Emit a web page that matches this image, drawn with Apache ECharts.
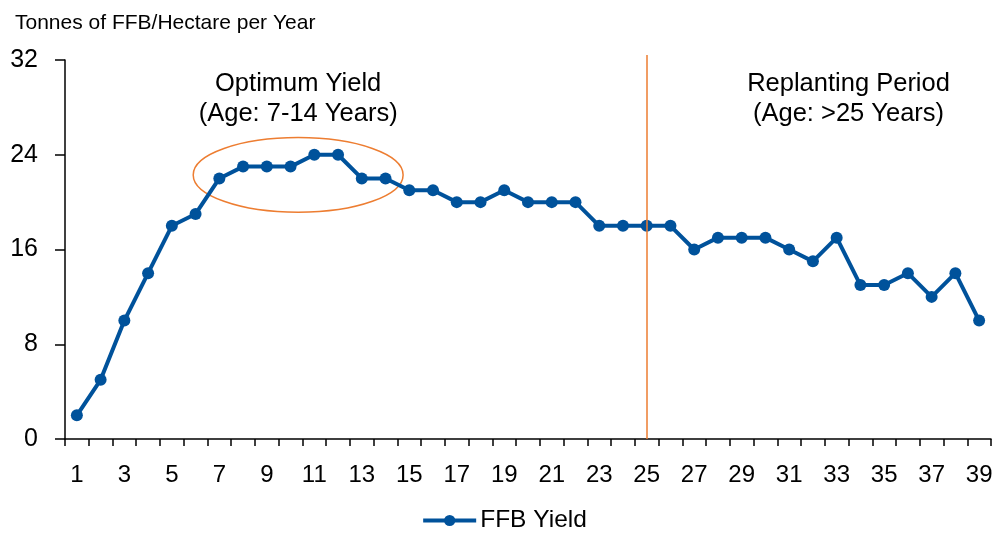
<!DOCTYPE html>
<html>
<head>
<meta charset="utf-8">
<script src="https://cdn.jsdelivr.net/npm/echarts@6/dist/echarts.min.js"></script>
<style>html,body{margin:0;padding:0;background:#fff;}#c{width:1008px;height:538px;}</style>
</head>
<body>
<div id="c"></div>
<script>
var ages = [];
for (var i = 1; i <= 39; i++) ages.push(String(i));
var ffbYield = [2,5,10,14,18,19,22,23,23,23,24,24,22,22,21,21,20,20,21,20,20,20,18,18,18,18,16,17,17,17,16,15,17,13,13,14,12,14,10];
var yTicks = [0, 8, 16, 24, 32];
var yTitle = 'Tonnes of FFB/Hectare per Year';
var optimumText = 'Optimum Yield\n(Age: 7-14 Years)';
var replantText = 'Replanting Period\n(Age: >25 Years)';
var replantAge = '25';

var font = 'Liberation Sans, Arial, sans-serif';
var chart = echarts.init(document.getElementById('c'), null, {renderer: 'canvas'});
var option = {
  animation: false,
  backgroundColor: '#fff',
  grid: {left: 65, right: 17, top: 60, bottom: 99, containLabel: false},
  title: {text: yTitle, left: 10, top: 8, textStyle: {fontFamily: font, fontSize: 21, fontWeight: 'normal', color: '#000'}},
  legend: {
    bottom: 0, left: 'center', itemWidth: 53, itemHeight: 14, itemGap: 10,
    data: ['FFB Yield'],
    lineStyle: {width: 4},
    textStyle: {fontFamily: font, fontSize: 24.5, color: '#000', padding: [0,0,0,-1]}
  },
  xAxis: {
    type: 'category', data: ages, boundaryGap: true,
    axisLine: {lineStyle: {color: '#000', width: 1.5}},
    axisTick: {show: true, interval: 0, length: 7, lineStyle: {color: '#000', width: 1.5}},
    axisLabel: {interval: 1, fontFamily: font, fontSize: 24, color: '#000', margin: 24}
  },
  yAxis: {
    type: 'value', min: yTicks[0], max: yTicks[yTicks.length-1], interval: 8,
    axisLine: {show: true, lineStyle: {color: '#000', width: 1.5}},
    axisTick: {show: true, length: 10, lineStyle: {color: '#000', width: 1.5}},
    splitLine: {show: false},
    axisLabel: {fontFamily: font, fontSize: 25, color: '#000', margin: 27}
  },
  series: [{
    name: 'FFB Yield', type: 'line', data: ffbYield,
    symbol: 'circle', symbolSize: 12,
    lineStyle: {color: '#00529B', width: 4},
    itemStyle: {color: '#00529B'},
    markLine: {
      silent: true, symbol: 'none', label: {show: false},
      lineStyle: {color: '#ED7D31', width: 1.5, type: 'solid'},
      data: [[{xAxis: replantAge, y: 55}, {xAxis: replantAge, yAxis: 0}]]
    },
    z: 3
  }]
};
chart.setOption(option);

function px(idx, val) { return chart.convertToPixel({gridIndex: 0}, [idx, val]); }
var p9 = px(9, 0), p10 = px(10, 0);
var step = p10[0] - p9[0];
var cy = px(0, 22.3)[1];
var cx = p9[0] + step * 0.32;
var unitY = px(0, 0)[1] - px(0, 1)[1];
var textY1 = px(0, 30)[1];
var p33 = px(32, 0);
chart.setOption({
  graphic: [
    {type: 'ellipse', shape: {cx: cx, cy: cy, rx: step * 4.42, ry: unitY * 3.15},
     style: {fill: 'none', stroke: '#ED7D31', lineWidth: 1.5}, z: 2},
    {type: 'text', x: cx, y: textY1 - 15, style: {text: optimumText, fontFamily: font, fontSize: 25.5, fill: '#000', align: 'center', verticalAlign: 'top', lineHeight: 30}},
    {type: 'text', x: p33[0] + step * 0.5, y: textY1 - 15, style: {text: replantText, fontFamily: font, fontSize: 25.5, fill: '#000', align: 'center', verticalAlign: 'top', lineHeight: 30}}
  ]
});
</script>
</body>
</html>
